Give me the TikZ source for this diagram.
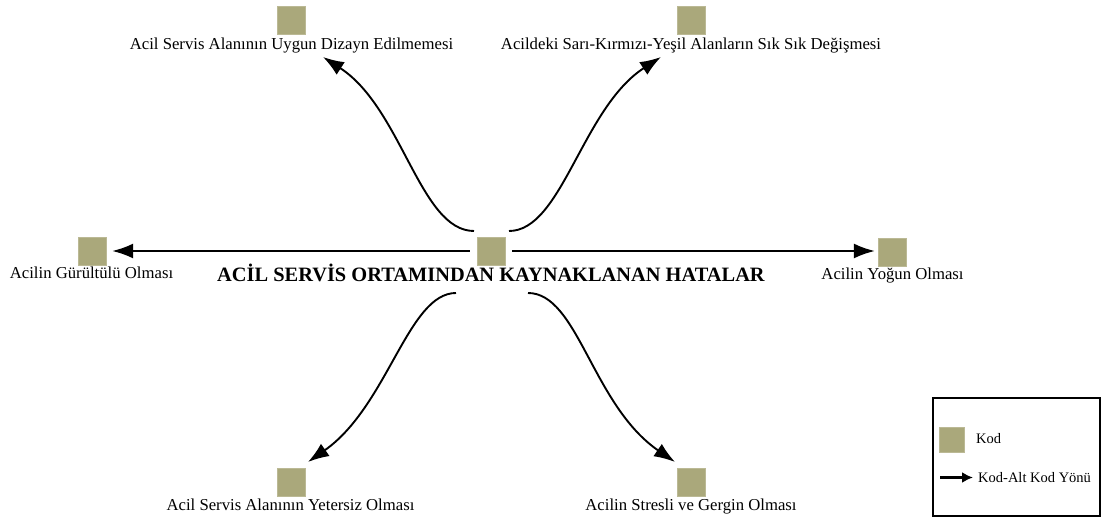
\documentclass[tikz,border=0pt]{standalone}
\usepackage{fontspec}
\setmainfont{Liberation Serif}
\usetikzlibrary{arrows.meta}
\definecolor{kod}{RGB}{170,168,123}
\begin{document}
\begin{tikzpicture}[x=1pt,y=-1pt,
  kodbox/.style={fill=kod,draw=kod!80!white,line width=0.4pt,minimum size=28pt,inner sep=0pt},
  lbl/.style={font=\fontsize{16.7}{18}\selectfont,inner sep=0pt,anchor=base},
  link/.style={line width=1.9pt,-{Latex[length=21pt,width=15pt]}}]
\useasboundingbox (0,0) rectangle (1101,521);
% central code and its title
\node[kodbox] (c) at (491,251) {};
\node[font=\fontsize{20.4}{22}\selectfont\bfseries,inner sep=0pt,anchor=base] (ct) at (491,281.5) {ACİL SERVİS ORTAMINDAN KAYNAKLANAN HATALAR};
% sub-codes
\node[kodbox] (tl) at (291.5,20.5) {};
\node[lbl] (tlt) at (291.5,50) {Acil Servis Alanının Uygun Dizayn Edilmemesi};
\node[kodbox] (tr) at (691,20.5) {};
\node[lbl] (trt) at (691,50) {Acildeki Sarı-Kırmızı-Yeşil Alanların Sık Sık Değişmesi};
\node[kodbox] (l) at (92,251) {};
\node[lbl] (lt) at (91.5,279) {Acilin Gürültülü Olması};
\node[kodbox] (r) at (892,252.5) {};
\node[lbl] (rt) at (892.5,280) {Acilin Yoğun Olması};
\node[kodbox] (bl) at (291.5,482) {};
\node[lbl] (blt) at (290.5,510) {Acil Servis Alanının Yetersiz Olması};
\node[kodbox] (br) at (691,482) {};
\node[lbl] (brt) at (691,510) {Acilin Stresli ve Gergin Olması};
% curve end points
\coordinate (stl) at (474,231);
\coordinate (str) at (509,231);
\coordinate (sbl) at (456,293);
\coordinate (sbr) at (528,293);
\coordinate (etl) at (323,57);
\coordinate (etr) at (661,57);
\coordinate (ebl) at (308,462);
\coordinate (ebr) at (675,462);
% connectors
\draw[link,shorten <=7pt,shorten >=6pt] (c.west) -- (l.east);
\draw[link,shorten <=7pt,shorten >=3pt] (c.east) -- (c.east -| r.west);
\draw[link] (stl) .. controls (420,231) and (402,108) .. (etl);
\draw[link] (str) .. controls (562,231) and (582,108) .. (etr);
\draw[link] (sbl) .. controls (408,293) and (388,406) .. (ebl);
\draw[link] (sbr) .. controls (578,293) and (592,405) .. (ebr);
% legend
\node[draw=black,line width=1.3pt,minimum width=167pt,minimum height=118pt,inner sep=0pt] (leg) at (1016.5,457) {};
\node[kodbox,minimum size=25pt] (lk) at (951.5,439.5) {};
\node[font=\fontsize{14.5}{16}\selectfont,inner sep=0pt,anchor=base west] (lkt) at (976,443.5) {Kod};
\coordinate (la) at (940,477.5);
\node[font=\fontsize{14.5}{16}\selectfont,inner sep=0pt,anchor=base west] (lat) at (978,482) {Kod-Alt Kod Yönü};
\draw[line width=2.7pt,-{Latex[length=11pt,width=11pt]},shorten >=5pt] (la) -- (lat.west |- la);
\end{tikzpicture}
\end{document}
